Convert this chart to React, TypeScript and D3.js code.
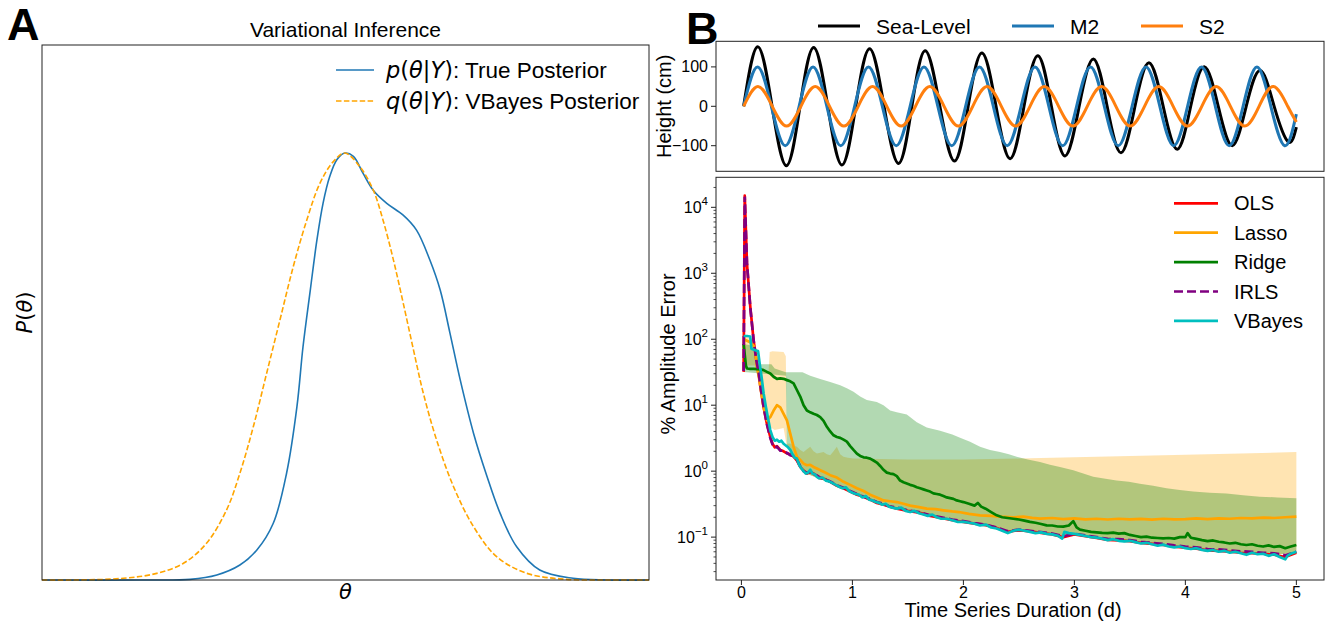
import React from "react";
import * as d3 from "d3";

const FONT = "'Liberation Sans', Arial, Helvetica, sans-serif";
const MATH = "'DejaVu Sans', sans-serif";

// ---------- Panel A: posterior densities ----------
const thetaTrue = [-5, -3.39, -2.56, -2.12, -1.74, -1.46, -1.19, -0.97, -0.8, -0.7, -0.58, -0.47, -0.37, -0.26, -0.14, -0.01, 0.13, 0.29, 0.46, 0.68, 0.95, 1.17, 1.39, 1.56, 1.72, 1.89, 2.11, 2.33, 2.55, 2.82, 3.2, 3.75, 4.3, 5];
const densTrue = [0, 0, 0.0006, 0.0047, 0.014, 0.028, 0.053, 0.1, 0.162, 0.218, 0.271, 0.318, 0.352, 0.377, 0.393, 0.399, 0.396, 0.38, 0.364, 0.352, 0.341, 0.327, 0.299, 0.271, 0.231, 0.187, 0.137, 0.097, 0.062, 0.031, 0.0093, 0.0016, 0, 0];
const thetaVB = [-5, -4.48, -3.66, -3.11, -2.67, -2.29, -1.96, -1.74, -1.52, -1.3, -1.08, -0.86, -0.64, -0.42, -0.2, -0.01, 0.24, 0.46, 0.62, 0.79, 0.95, 1.12, 1.28, 1.5, 1.78, 2.11, 2.49, 2.99, 3.64, 4.3, 5];
const densVB = [0, 0, 0.0016, 0.0062, 0.0156, 0.0343, 0.0654, 0.0997, 0.143, 0.193, 0.243, 0.293, 0.336, 0.371, 0.391, 0.399, 0.386, 0.364, 0.336, 0.299, 0.259, 0.215, 0.175, 0.131, 0.0872, 0.0498, 0.0218, 0.0062, 0.0006, 0, 0];

// ---------- Panel B top: tidal signals (days, cm) ----------
const m2T = [0.02, 0.145, 0.27, 0.395, 0.52, 0.645, 0.77, 0.895, 1.02, 1.145, 1.27, 1.395, 1.52, 1.645, 1.77, 1.895, 2.02, 2.145, 2.27, 2.395, 2.52, 2.645, 2.77, 2.895, 3.02, 3.145, 3.27, 3.395, 3.52, 3.645, 3.77, 3.895, 4.02, 4.145, 4.27, 4.395, 4.52, 4.645, 4.77, 4.895, 5.0];
const m2V = [0, 100, 0, -100, 0, 100, 0, -100, 0, 100, 0, -100, 0, 100, 0, -100, 0, 100, 0, -100, 0, 100, 0, -100, 0, 100, 0, -100, 0, 100, 0, -100, 0, 100, 0, -100, 0, 100, 0, -100, -20];
const s2T = [0.02, 0.149, 0.278, 0.407, 0.536, 0.665, 0.794, 0.923, 1.052, 1.181, 1.31, 1.439, 1.568, 1.697, 1.826, 1.955, 2.084, 2.213, 2.342, 2.471, 2.6, 2.729, 2.858, 2.987, 3.116, 3.245, 3.374, 3.503, 3.632, 3.761, 3.89, 4.019, 4.148, 4.277, 4.406, 4.535, 4.664, 4.793, 4.922, 5.0];
const s2V = [0, 50, 0, -50, 0, 50, 0, -50, 0, 50, 0, -50, 0, 50, 0, -50, 0, 50, 0, -50, 0, 50, 0, -50, 0, 50, 0, -50, 0, 50, 0, -50, 0, 50, 0, -50, 0, 50, 0, -40];
const seaT = [0.02, 0.147, 0.276, 0.405, 0.528, 0.651, 0.778, 0.906, 1.03, 1.155, 1.285, 1.416, 1.536, 1.656, 1.788, 1.92, 2.043, 2.167, 2.294, 2.421, 2.546, 2.671, 2.793, 2.916, 3.043, 3.171, 3.295, 3.42, 3.546, 3.672, 3.8, 3.927, 4.048, 4.17, 4.296, 4.422, 4.548, 4.674, 4.8, 4.926, 5.0];
const seaV = [0, 151, 0, -151, 0, 149.5, 0, -149, 0, 146, 0, -145, 0, 141, 0, -139, 0, 135, 0, -133, 0, 128.5, 0, -126, 0, 120, 0, -118, 0, 110.5, 0, -109, 0, 100.5, 0, -100, 0, 91, 0, -90, -53];
const topTicks = [-100, 0, 100];

// ---------- Panel B bottom: % amplitude error ----------
const olsData: [number, number][] = [[0.02,32],[0.03,15000],[0.05,1400],[0.08,310],[0.11,95],[0.135,48],[0.156,30],[0.171,19],[0.2,9.3],[0.23,5.2],[0.26,3.3],[0.28,2.6],[0.3,2.3],[0.32,2.4],[0.35,2.1],[0.38,2.0],[0.41,1.86],[0.44,1.8],[0.47,1.66],[0.5,1.45],[0.53,1.16],[0.56,1.02],[0.59,0.92],[0.62,0.97],[0.65,0.92],[0.68,0.84],[0.71,0.78],[0.75,0.76],[0.8,0.69],[0.86,0.6],[0.92,0.55],[0.98,0.49],[1.04,0.44],[1.1,0.41],[1.16,0.37],[1.22,0.33],[1.28,0.31],[1.34,0.29],[1.4,0.27],[1.5,0.25],[1.6,0.235],[1.7,0.21],[1.8,0.195],[1.9,0.18],[2.0,0.17],[2.1,0.16],[2.2,0.152],[2.3,0.138],[2.4,0.12],[2.5,0.128],[2.6,0.122],[2.7,0.116],[2.8,0.11],[2.9,0.1],[3.0,0.11],[3.1,0.103],[3.2,0.097],[3.3,0.091],[3.4,0.089],[3.5,0.087],[3.6,0.082],[3.7,0.079],[3.8,0.076],[3.9,0.072],[4.0,0.069],[4.1,0.067],[4.2,0.063],[4.3,0.062],[4.4,0.06],[4.5,0.058],[4.6,0.057],[4.7,0.056],[4.8,0.054],[4.9,0.05],[5.0,0.058]];
const irlsData: [number, number][] = [[0.02,33],[0.03,14500],[0.05,1450],[0.08,300],[0.11,97],[0.135,47],[0.156,31],[0.171,19.5],[0.2,9.5],[0.23,5.1],[0.26,3.2],[0.28,2.55],[0.3,2.25],[0.32,2.35],[0.35,2.05],[0.38,2.05],[0.41,1.9],[0.44,1.75],[0.47,1.7],[0.5,1.5],[0.53,1.18],[0.56,1.0],[0.59,0.94],[0.62,0.98],[0.65,0.9],[0.68,0.86],[0.71,0.8],[0.75,0.75],[0.8,0.7],[0.86,0.61],[0.92,0.56],[0.98,0.5],[1.04,0.45],[1.1,0.41],[1.16,0.38],[1.22,0.34],[1.28,0.32],[1.34,0.29],[1.4,0.28],[1.5,0.255],[1.6,0.24],[1.7,0.215],[1.8,0.2],[1.9,0.185],[2.0,0.175],[2.1,0.163],[2.2,0.155],[2.3,0.14],[2.4,0.123],[2.5,0.13],[2.6,0.125],[2.7,0.119],[2.8,0.113],[2.9,0.103],[3.0,0.112],[3.1,0.106],[3.2,0.1],[3.3,0.094],[3.4,0.093],[3.5,0.09],[3.6,0.085],[3.7,0.082],[3.8,0.079],[3.9,0.075],[4.0,0.072],[4.1,0.07],[4.2,0.066],[4.3,0.065],[4.4,0.063],[4.5,0.061],[4.6,0.06],[4.7,0.058],[4.8,0.057],[4.9,0.053],[5.0,0.06]];
const vbayesData: [number, number][] = [[0.02,112],[0.05,112],[0.08,110],[0.09,72],[0.125,68],[0.15,66],[0.165,42],[0.18,28],[0.2,15.1],[0.22,9.5],[0.24,6.3],[0.26,4.2],[0.28,3.3],[0.3,2.9],[0.32,3.0],[0.34,2.8],[0.36,2.9],[0.38,2.6],[0.4,2.45],[0.42,2.3],[0.44,2.1],[0.46,1.8],[0.48,1.6],[0.5,1.55],[0.52,1.25],[0.54,1.1],[0.56,1.0],[0.58,0.92],[0.6,0.95],[0.62,1.05],[0.64,0.92],[0.66,0.9],[0.68,0.82],[0.7,0.78],[0.73,0.8],[0.76,0.72],[0.79,0.7],[0.82,0.66],[0.85,0.62],[0.88,0.58],[0.91,0.55],[0.94,0.57],[0.97,0.5],[1.0,0.47],[1.03,0.45],[1.06,0.44],[1.09,0.4],[1.12,0.42],[1.15,0.37],[1.18,0.36],[1.21,0.34],[1.24,0.33],[1.27,0.31],[1.3,0.32],[1.33,0.29],[1.36,0.28],[1.4,0.27],[1.44,0.28],[1.48,0.25],[1.52,0.24],[1.56,0.25],[1.6,0.23],[1.64,0.22],[1.68,0.21],[1.72,0.22],[1.76,0.2],[1.8,0.19],[1.85,0.19],[1.9,0.18],[1.95,0.17],[2.0,0.17],[2.05,0.165],[2.1,0.16],[2.15,0.15],[2.2,0.155],[2.25,0.14],[2.3,0.135],[2.35,0.125],[2.4,0.115],[2.45,0.125],[2.5,0.13],[2.55,0.125],[2.6,0.12],[2.65,0.115],[2.7,0.118],[2.75,0.112],[2.8,0.11],[2.85,0.105],[2.89,0.095],[2.91,0.12],[2.95,0.115],[3.0,0.112],[3.05,0.108],[3.1,0.104],[3.15,0.1],[3.2,0.098],[3.25,0.095],[3.3,0.09],[3.35,0.093],[3.4,0.088],[3.45,0.086],[3.5,0.088],[3.55,0.084],[3.6,0.08],[3.65,0.082],[3.7,0.078],[3.75,0.074],[3.8,0.077],[3.85,0.072],[3.9,0.07],[3.95,0.072],[4.0,0.068],[4.05,0.066],[4.1,0.068],[4.15,0.064],[4.2,0.062],[4.25,0.064],[4.3,0.06],[4.35,0.062],[4.4,0.058],[4.45,0.06],[4.5,0.057],[4.55,0.054],[4.6,0.058],[4.65,0.055],[4.7,0.056],[4.75,0.052],[4.8,0.055],[4.85,0.05],[4.9,0.046],[4.92,0.052],[4.95,0.056],[5.0,0.06]];
const lassoData: [number, number][] = [[0.02,100],[0.05,95],[0.08,90],[0.11,80],[0.126,67],[0.14,38],[0.156,28],[0.171,19],[0.2,9.3],[0.23,5.9],[0.26,6.6],[0.29,8.3],[0.32,10],[0.35,9.3],[0.38,7.4],[0.41,5.9],[0.44,3.7],[0.47,2.34],[0.5,1.66],[0.53,1.48],[0.56,1.3],[0.59,1.23],[0.62,1.25],[0.65,1.16],[0.68,1.1],[0.71,1.035],[0.75,0.96],[0.8,0.87],[0.86,0.8],[0.92,0.69],[0.98,0.62],[1.04,0.55],[1.1,0.5],[1.16,0.44],[1.22,0.4],[1.28,0.36],[1.34,0.35],[1.4,0.34],[1.46,0.32],[1.52,0.3],[1.6,0.285],[1.67,0.27],[1.75,0.265],[1.82,0.255],[1.9,0.245],[1.96,0.24],[2.05,0.225],[2.15,0.214],[2.25,0.21],[2.33,0.204],[2.45,0.2],[2.54,0.204],[2.62,0.196],[2.69,0.191],[2.8,0.195],[2.9,0.188],[3.0,0.192],[3.1,0.186],[3.2,0.19],[3.3,0.185],[3.4,0.19],[3.5,0.186],[3.6,0.189],[3.7,0.184],[3.8,0.19],[3.9,0.186],[4.0,0.188],[4.1,0.192],[4.2,0.187],[4.3,0.193],[4.4,0.19],[4.5,0.195],[4.6,0.192],[4.7,0.197],[4.8,0.195],[4.9,0.2],[5.0,0.204]];
const ridgeData: [number, number][] = [[0.02,85],[0.04,40],[0.05,36],[0.08,35.5],[0.11,35.5],[0.17,35],[0.2,34],[0.23,32],[0.26,30.2],[0.29,27],[0.32,25.1],[0.35,25.5],[0.38,25.1],[0.41,24],[0.44,23],[0.47,21.4],[0.5,17],[0.53,13.5],[0.56,10],[0.59,8.3],[0.62,7.8],[0.65,7.4],[0.68,7.1],[0.71,6.6],[0.74,5.8],[0.77,4.7],[0.8,4.0],[0.83,3.5],[0.86,3.3],[0.89,3.2],[0.92,3.0],[0.95,2.8],[0.98,2.4],[1.01,2.1],[1.04,1.85],[1.07,1.7],[1.1,1.62],[1.13,1.6],[1.16,1.55],[1.19,1.45],[1.22,1.35],[1.25,1.2],[1.28,1.05],[1.31,0.95],[1.34,0.92],[1.37,0.9],[1.4,0.84],[1.43,0.72],[1.46,0.68],[1.49,0.65],[1.52,0.62],[1.55,0.6],[1.58,0.57],[1.61,0.55],[1.64,0.53],[1.67,0.51],[1.7,0.49],[1.73,0.46],[1.76,0.45],[1.79,0.44],[1.82,0.42],[1.85,0.4],[1.88,0.39],[1.91,0.38],[1.94,0.36],[1.97,0.35],[2.0,0.34],[2.05,0.32],[2.1,0.3],[2.13,0.33],[2.16,0.29],[2.2,0.27],[2.25,0.24],[2.3,0.214],[2.35,0.2],[2.4,0.195],[2.45,0.19],[2.5,0.185],[2.55,0.178],[2.6,0.17],[2.65,0.165],[2.7,0.158],[2.75,0.151],[2.8,0.15],[2.85,0.145],[2.9,0.144],[2.95,0.15],[2.99,0.175],[3.02,0.14],[3.05,0.13],[3.1,0.125],[3.15,0.12],[3.2,0.118],[3.25,0.116],[3.3,0.115],[3.35,0.117],[3.4,0.113],[3.45,0.115],[3.5,0.108],[3.55,0.104],[3.6,0.1],[3.65,0.102],[3.7,0.098],[3.75,0.097],[3.8,0.0955],[3.85,0.097],[3.9,0.095],[3.95,0.1],[4.0,0.1],[4.02,0.115],[4.05,0.098],[4.1,0.094],[4.15,0.09],[4.2,0.087],[4.25,0.089],[4.3,0.085],[4.35,0.083],[4.4,0.08],[4.45,0.082],[4.5,0.078],[4.55,0.076],[4.6,0.078],[4.65,0.074],[4.7,0.072],[4.75,0.075],[4.8,0.071],[4.85,0.073],[4.9,0.068],[4.95,0.072],[5.0,0.076]];

const lassoUpper: [number, number][] = [[0.02,112],[0.1,100],[0.13,60],[0.15,53],[0.17,38],[0.2,33],[0.245,33],[0.255,64],[0.28,66],[0.38,64],[0.4,55],[0.41,2.6],[0.44,2.63],[0.47,2.45],[0.5,2.34],[0.53,2.1],[0.56,1.95],[0.59,2.15],[0.62,2.34],[0.65,2.0],[0.68,1.86],[0.71,1.9],[0.74,1.95],[0.77,1.8],[0.8,1.74],[0.83,2.0],[0.86,2.34],[0.89,1.8],[0.92,1.66],[0.96,1.6],[1.01,1.55],[1.5,1.5],[2.0,1.5],[2.5,1.55],[3.0,1.62],[3.5,1.7],[4.0,1.78],[4.5,1.86],[5.0,1.95]];
const lassoLower: [number, number][] = [[0.02,40],[0.12,40],[0.17,19],[0.2,9],[0.23,5],[0.3,4.2],[0.38,4.5],[0.41,2.3],[0.5,1.4],[0.6,0.9],[0.8,0.66],[1.0,0.46],[1.2,0.35],[1.4,0.27],[1.6,0.23],[1.8,0.19],[2.0,0.17],[2.2,0.15],[2.4,0.12],[2.6,0.12],[2.8,0.108],[3.0,0.108],[3.2,0.097],[3.4,0.088],[3.6,0.081],[3.8,0.075],[4.0,0.068],[4.2,0.063],[4.4,0.06],[4.6,0.057],[4.8,0.054],[5.0,0.058]];
const ridgeUpper: [number, number][] = [[0.02,85],[0.1,80],[0.13,45],[0.18,41.7],[0.27,41.7],[0.3,36],[0.4,31.6],[0.55,31.6],[0.62,28],[0.71,25],[0.8,22.4],[0.89,20],[0.95,18],[1.01,16],[1.07,13.5],[1.13,12],[1.22,11.2],[1.28,10],[1.34,8.3],[1.4,7.8],[1.49,7.2],[1.58,5.5],[1.67,4.6],[1.79,4.1],[1.9,3.6],[1.97,3.2],[2.06,2.8],[2.15,2.34],[2.24,2.1],[2.33,1.95],[2.41,1.8],[2.48,1.66],[2.58,1.5],[2.69,1.38],[2.78,1.25],[2.87,1.16],[2.99,1.035],[3.08,0.92],[3.17,0.82],[3.28,0.77],[3.38,0.724],[3.49,0.69],[3.59,0.646],[3.71,0.6],[3.83,0.55],[3.95,0.52],[4.07,0.49],[4.22,0.47],[4.37,0.457],[4.52,0.43],[4.67,0.41],[4.83,0.4],[5.0,0.39]];
const ridgeLower: [number, number][] = [[0.02,32],[0.4,28],[0.41,2.5],[0.5,1.4],[0.6,0.9],[0.8,0.66],[1.0,0.46],[1.2,0.35],[1.4,0.27],[1.6,0.23],[1.8,0.19],[2.0,0.17],[2.2,0.15],[2.4,0.12],[2.6,0.12],[2.8,0.108],[3.0,0.108],[3.2,0.097],[3.4,0.088],[3.6,0.081],[3.8,0.075],[4.0,0.068],[4.2,0.063],[4.4,0.06],[4.6,0.057],[4.8,0.054],[5.0,0.058]];

const xTicks = [0, 1, 2, 3, 4, 5];
const logExps = [-1, 0, 1, 2, 3, 4];

type Pt = [number, number];

export default function App() {
  // Panel A scales
  const axA = { l: 42, r: 649, t: 45, b: 580 };
  const xA = d3.scaleLinear().domain([-5, 5]).range([axA.l, axA.r]);
  const yA = d3.scaleLinear().domain([0, 0.5]).range([axA.b, axA.t]);
  const lineA = d3.line<Pt>().x(d => xA(d[0])).y(d => Math.min(axA.b, yA(d[1]))).curve(d3.curveCatmullRom.alpha(0.5));
  const truePts: Pt[] = thetaTrue.map((t, i) => [t, densTrue[i]]);
  const vbPts: Pt[] = thetaVB.map((t, i) => [t, densVB[i]]);

  // Panel B scales
  const L = 716, R = 1324;
  const xB = d3.scaleLinear().domain([-0.229, 5.249]).range([L, R]);
  const topT = 41.3, topB = 171.3;
  const yTop = d3.scaleLinear().domain([-165, 165]).range([topB, topT]);
  const botT = 177.3, botB = 580;
  const yLog = d3.scaleLog().domain([Math.pow(10, -1.65), Math.pow(10, 4.455)]).range([botB, botT]);

  const lineTop = d3.line<Pt>().x(d => xB(d[0])).y(d => yTop(d[1])).curve(d3.curveNatural);
  const m2Pts: Pt[] = m2T.map((t, i) => [t, m2V[i]]);
  const s2Pts: Pt[] = s2T.map((t, i) => [t, s2V[i]]);
  const seaPts: Pt[] = seaT.map((t, i) => [t, seaV[i]]);

  const lineLog = d3.line<Pt>().x(d => xB(d[0])).y(d => yLog(d[1]));
  const band = (up: Pt[], lo: Pt[]) => (lineLog([...up, ...lo.slice().reverse()]) || "") + "Z";

  const minor: number[] = [];
  for (let e = -2; e <= 4; e++) for (let k = 2; k <= 9; k++) {
    const v = k * Math.pow(10, e);
    const y = yLog(v);
    if (y >= botT && y <= botB) minor.push(v);
  }

  const lw = 2.7;
  const legendB = [
    { name: "OLS", color: "#ff0000", dash: undefined as string | undefined },
    { name: "Lasso", color: "#ffa500", dash: undefined },
    { name: "Ridge", color: "#008000", dash: undefined },
    { name: "IRLS", color: "#800080", dash: "9,4" },
    { name: "VBayes", color: "#00bfbf", dash: undefined },
  ];
  const legendTop = [
    { name: "Sea-Level", color: "#000000", x: 818 },
    { name: "M2", color: "#1f77b4", x: 1012 },
    { name: "S2", color: "#ff7f0e", x: 1141 },
  ];

  return (
    <svg width={1327} height={622} style={{ position: "absolute", left: 0, top: 0, background: "#fff" }} fontFamily={FONT}>
      <rect x={0} y={0} width={1327} height={622} fill="#fff" />
      {/* ===== Panel A ===== */}
      <text x={7} y={40} fontSize={45} fontWeight="bold">A</text>
      <text x={(axA.l + axA.r) / 2} y={37} fontSize={21} textAnchor="middle">Variational Inference</text>
      <path d={lineA(truePts) || ""} fill="none" stroke="#1f77b4" strokeWidth={1.6} />
      <path d={lineA(vbPts) || ""} fill="none" stroke="#ffa500" strokeWidth={1.6} strokeDasharray="5.5,2.4" />
      <rect x={axA.l} y={axA.t} width={axA.r - axA.l} height={axA.b - axA.t} fill="none" stroke="#222" strokeWidth={1} />
      {/* legend A */}
      <line x1={336} x2={374} y1={70} y2={70} stroke="#1f77b4" strokeWidth={1.6} />
      <text x={386} y={78} fontSize={22.5}>
        <tspan fontFamily={MATH} fontStyle="italic">p</tspan>
        <tspan fontFamily={MATH}>(</tspan>
        <tspan fontFamily={MATH} fontStyle="italic">θ</tspan>
        <tspan fontFamily={MATH}>|</tspan>
        <tspan fontFamily={MATH} fontStyle="italic">Y</tspan>
        <tspan fontFamily={MATH}>)</tspan>
        <tspan>: True Posterior</tspan>
      </text>
      <line x1={336} x2={374} y1={101} y2={101} stroke="#ffa500" strokeWidth={1.6} strokeDasharray="5.5,2.4" />
      <text x={386} y={109} fontSize={22.5}>
        <tspan fontFamily={MATH} fontStyle="italic">q</tspan>
        <tspan fontFamily={MATH}>(</tspan>
        <tspan fontFamily={MATH} fontStyle="italic">θ</tspan>
        <tspan fontFamily={MATH}>|</tspan>
        <tspan fontFamily={MATH} fontStyle="italic">Y</tspan>
        <tspan fontFamily={MATH}>)</tspan>
        <tspan>: VBayes Posterior</tspan>
      </text>
      <text x={(axA.l + axA.r) / 2} y={599} fontSize={21} textAnchor="middle" fontFamily={MATH} fontStyle="italic">θ</text>
      <text transform={`translate(25,${(axA.t + axA.b) / 2}) rotate(-90)`} fontSize={21} textAnchor="middle" dominantBaseline="central" fontFamily={MATH}>
        <tspan fontStyle="italic">P</tspan>(<tspan fontStyle="italic">θ</tspan>)
      </text>

      {/* ===== Panel B ===== */}
      <text x={686} y={44} fontSize={45} fontWeight="bold">B</text>
      {legendTop.map(d => (
        <g key={d.name}>
          <line x1={d.x} x2={d.x + 42} y1={26} y2={26} stroke={d.color} strokeWidth={3} />
          <text x={d.x + 58} y={33.5} fontSize={21}>{d.name}</text>
        </g>
      ))}
      {/* top subplot */}
      <path d={lineTop(seaPts) || ""} fill="none" stroke="#000" strokeWidth={3} />
      <path d={lineTop(m2Pts) || ""} fill="none" stroke="#1f77b4" strokeWidth={3} />
      <path d={lineTop(s2Pts) || ""} fill="none" stroke="#ff7f0e" strokeWidth={3} />
      <rect x={L} y={topT} width={R - L} height={topB - topT} fill="none" stroke="#222" strokeWidth={1} />
      {topTicks.map(v => (
        <g key={v}>
          <line x1={L - 5} x2={L} y1={yTop(v)} y2={yTop(v)} stroke="#222" />
          <text x={L - 8} y={yTop(v)} fontSize={16} textAnchor="end" dominantBaseline="central">{v < 0 ? "\u2212" + Math.abs(v) : String(v)}</text>
        </g>
      ))}
      <text transform={`translate(664,${(topT + topB) / 2}) rotate(-90)`} fontSize={20} textAnchor="middle" dominantBaseline="central">Height (cm)</text>

      {/* bottom subplot: bands */}
      <path d={band(lassoUpper, lassoLower)} fill="#ffa500" fillOpacity={0.3} stroke="none" />
      <path d={band(ridgeUpper, ridgeLower)} fill="#008000" fillOpacity={0.3} stroke="none" />
      {/* lines */}
      <path d={lineLog(olsData) || ""} fill="none" stroke="#ff0000" strokeWidth={lw} strokeLinejoin="round" />
      <path d={lineLog(lassoData) || ""} fill="none" stroke="#ffa500" strokeWidth={lw} strokeLinejoin="round" />
      <path d={lineLog(ridgeData) || ""} fill="none" stroke="#008000" strokeWidth={lw} strokeLinejoin="round" />
      <path d={lineLog(irlsData) || ""} fill="none" stroke="#800080" strokeWidth={lw} strokeDasharray="9,4" />
      <path d={lineLog(vbayesData) || ""} fill="none" stroke="#00bfbf" strokeWidth={lw} strokeLinejoin="round" />
      <rect x={L} y={botT} width={R - L} height={botB - botT} fill="none" stroke="#222" strokeWidth={1} />
      {/* y log ticks */}
      {minor.map(v => (
        <line key={"m" + v} x1={L - 2.5} x2={L} y1={yLog(v)} y2={yLog(v)} stroke="#222" strokeWidth={0.8} />
      ))}
      {logExps.map(e => (
        <g key={e}>
          <line x1={L - 5} x2={L} y1={yLog(Math.pow(10, e))} y2={yLog(Math.pow(10, e))} stroke="#222" />
          <text x={L - 8} y={yLog(Math.pow(10, e)) + 6} fontSize={16} textAnchor="end">
            10<tspan fontSize={11.5} dy={-8}>{e < 0 ? "\u2212" + Math.abs(e) : String(e)}</tspan>
          </text>
        </g>
      ))}
      {/* x ticks */}
      {xTicks.map(t => (
        <g key={t}>
          <line x1={xB(t)} x2={xB(t)} y1={botB} y2={botB + 5} stroke="#222" />
          <text x={xB(t)} y={598} fontSize={16} textAnchor="middle">{t}</text>
        </g>
      ))}
      <text x={1013} y={617} fontSize={20} textAnchor="middle">Time Series Duration (d)</text>
      <text transform={`translate(668,354) rotate(-90)`} fontSize={20} textAnchor="middle" dominantBaseline="central">% Amplitude Error</text>
      {/* legend bottom */}
      {legendB.map((d, i) => {
        const y = 203.3 + i * 29.4;
        return (
          <g key={d.name}>
            <line x1={1174} x2={1218} y1={y} y2={y} stroke={d.color} strokeWidth={lw} strokeDasharray={d.dash} />
            <text x={1234} y={y + 7} fontSize={20}>{d.name}</text>
          </g>
        );
      })}
    </svg>
  );
}
